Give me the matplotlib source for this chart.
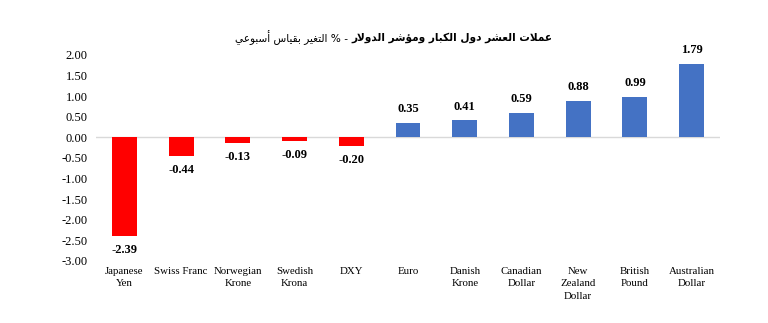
import matplotlib
matplotlib.use("Agg")
import matplotlib.pyplot as plt

# ---- data -------------------------------------------------------------
currencies = ["Japanese\nYen", "Swiss Franc", "Norwegian\nKrone", "Swedish\nKrona",
              "DXY", "Euro", "Danish\nKrone", "Canadian\nDollar",
              "New\nZealand\nDollar", "British\nPound", "Australian\nDollar"]
weekly_change = [-2.39, -0.44, -0.13, -0.09, -0.20, 0.35, 0.41, 0.59, 0.88, 0.99, 1.79]
yticks = [2.0, 1.5, 1.0, 0.5, 0.0, -0.5, -1.0, -1.5, -2.0, -2.5, -3.0]

title_bold = "عملات العشر دول الكبار ومؤشر الدولار"
title_regular = "- % التغير بقياس أسبوعي"

NEG_COLOR = "#FF0000"
POS_COLOR = "#4472C4"

# ---- minimal Arabic shaping (presentation forms) + visual ordering -----
# forms: (isolated, final, initial, medial); two-form letters do not join forward
FORMS = {
    "ا": (0xFE8D, 0xFE8E), "أ": (0xFE83, 0xFE84), "د": (0xFEA9, 0xFEAA),
    "ر": (0xFEAD, 0xFEAE), "و": (0xFEED, 0xFEEE), "ؤ": (0xFE85, 0xFE86),
    "ب": (0xFE8F, 0xFE90, 0xFE91, 0xFE92), "ت": (0xFE95, 0xFE96, 0xFE97, 0xFE98),
    "س": (0xFEB1, 0xFEB2, 0xFEB3, 0xFEB4), "ش": (0xFEB5, 0xFEB6, 0xFEB7, 0xFEB8),
    "ع": (0xFEC9, 0xFECA, 0xFECB, 0xFECC), "غ": (0xFECD, 0xFECE, 0xFECF, 0xFED0),
    "ق": (0xFED5, 0xFED6, 0xFED7, 0xFED8), "ك": (0xFED9, 0xFEDA, 0xFEDB, 0xFEDC),
    "ل": (0xFEDD, 0xFEDE, 0xFEDF, 0xFEE0), "م": (0xFEE1, 0xFEE2, 0xFEE3, 0xFEE4),
    "ي": (0xFEF1, 0xFEF2, 0xFEF3, 0xFEF4),
}
LAM_ALEF = {"ا": (0xFEFB, 0xFEFC), "أ": (0xFEF7, 0xFEF8)}


def shape_arabic(text):
    # merge lam + alef into ligature tokens first
    tokens = []
    i = 0
    while i < len(text):
        c = text[i]
        if c == "ل" and i + 1 < len(text) and text[i + 1] in LAM_ALEF:
            tokens.append(("LA", text[i + 1]))
            i += 2
        else:
            tokens.append(("C", c))
            i += 1

    def is_letter(t):
        return t[0] == "LA" or t[1] in FORMS

    def joins_forward(t):
        return t[0] == "C" and t[1] in FORMS and len(FORMS[t[1]]) == 4

    out = []
    for k, t in enumerate(tokens):
        prev = tokens[k - 1] if k > 0 else None
        nxt = tokens[k + 1] if k + 1 < len(tokens) else None
        jp = prev is not None and joins_forward(prev)
        if t[0] == "LA":
            iso, fin = LAM_ALEF[t[1]]
            out.append(chr(fin if jp else iso))
            continue
        c = t[1]
        if c not in FORMS:
            out.append(c)
            continue
        f = FORMS[c]
        jn = len(f) == 4 and nxt is not None and is_letter(nxt)
        if len(f) == 2:
            out.append(chr(f[1] if jp else f[0]))
        else:
            if jp and jn:
                out.append(chr(f[3]))
            elif jp:
                out.append(chr(f[1]))
            elif jn:
                out.append(chr(f[2]))
            else:
                out.append(chr(f[0]))
    return "".join(out)[::-1]


# ---- figure -----------------------------------------------------------
plt.rcParams["font.family"] = ["Liberation Serif", "DejaVu Serif"]

fig = plt.figure(figsize=(7.68, 3.23), dpi=100)
ax = fig.add_axes([0.125, 0.192, 0.8125, 0.6378])

x = list(range(len(currencies)))
colors = [NEG_COLOR if v < 0 else POS_COLOR for v in weekly_change]
ax.bar(x, weekly_change, width=0.44, color=colors, zorder=2)

for xi, v in zip(x, weekly_change):
    if v >= 0:
        ax.annotate(f"{v:.2f}", (xi, v), xytext=(0, 5.5), textcoords="offset points",
                    ha="center", va="bottom", fontsize=9, fontweight="bold")
    else:
        ax.annotate(f"{v:.2f}", (xi, v), xytext=(0, -6), textcoords="offset points",
                    ha="center", va="top", fontsize=9, fontweight="bold")

ax.axhline(0, color="#D9D9D9", linewidth=1.0, zorder=1)

ax.set_xlim(-0.5, len(currencies) - 0.5)
ax.set_ylim(-3.0, 2.0)
ax.set_yticks(yticks)
ax.set_yticklabels([f"{t:.2f}" for t in yticks], fontsize=9)
ax.set_xticks(x)
ax.set_xticklabels(currencies, fontsize=7.8, linespacing=1.5)
ax.tick_params(axis="y", length=0, pad=6)
ax.tick_params(axis="x", length=0, pad=4)
for s in ax.spines.values():
    s.set_visible(False)

# title: bold lead-in on the right, regular tail continuing to its left
tb = fig.text(552 / 768, 1 - 38 / 323, shape_arabic(title_bold), ha="right",
              va="center", fontsize=7.6, fontweight="bold", family="DejaVu Sans")
fig.canvas.draw()
bb = tb.get_window_extent()
gap = 3
fig.text((bb.x0 - gap) / fig.bbox.width, 1 - 38 / 323, shape_arabic(title_regular),
         ha="right", va="center", fontsize=7.6, family="DejaVu Sans")

fig.savefig("out.png", dpi=100)
